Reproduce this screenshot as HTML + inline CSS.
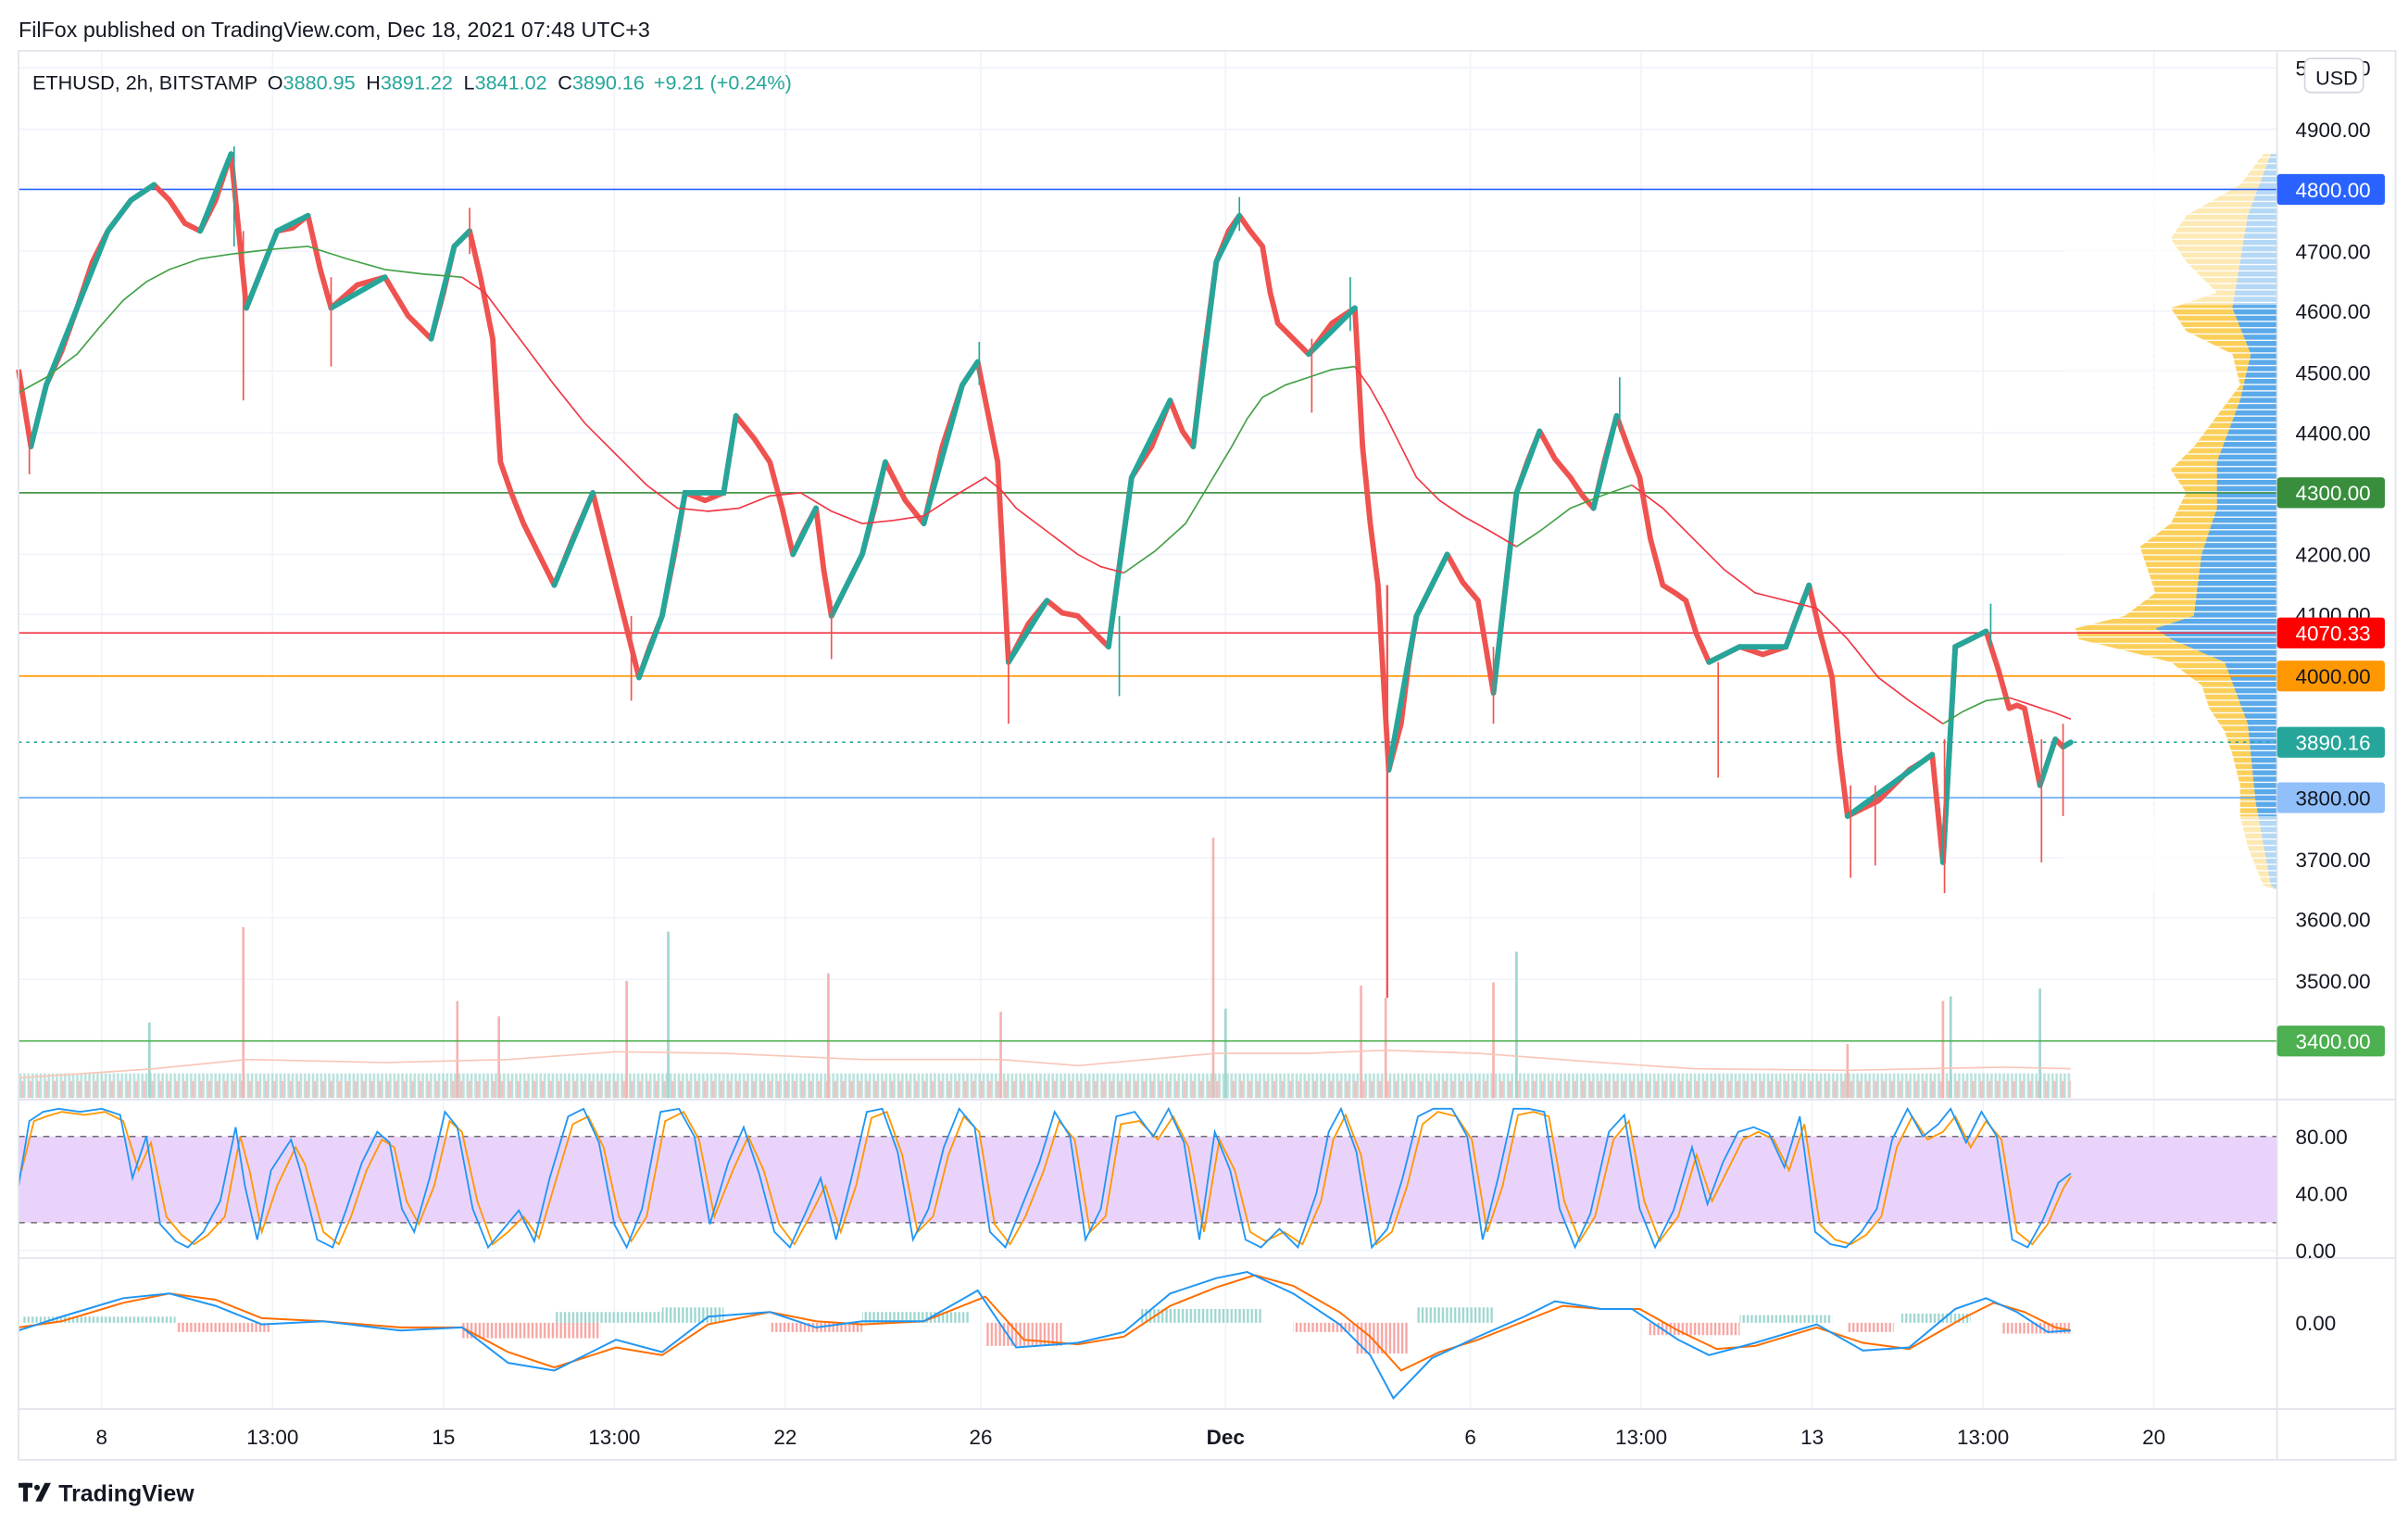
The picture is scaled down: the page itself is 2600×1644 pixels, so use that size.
<!DOCTYPE html>
<html><head><meta charset="utf-8"><style>
html,body{margin:0;padding:0;background:#fff;width:2600px;height:1644px;overflow:hidden}
svg{display:block}
text{font-family:"Liberation Sans",sans-serif}
</style></head><body>
<svg width="2600" height="1644" viewBox="0 0 1564 989" xmlns="http://www.w3.org/2000/svg">
<defs>
<pattern id="vb" x="12" y="0" width="2.64" height="30" patternUnits="userSpaceOnUse"><rect x="0.4" y="0" width="1.6" height="30" fill="#9fd6d0"/></pattern>
<pattern id="vr" x="13.3" y="0" width="5.28" height="30" patternUnits="userSpaceOnUse"><rect x="0.4" y="0" width="1.6" height="30" fill="#f6b3b1"/></pattern>
<pattern id="st" x="0" y="0" width="10" height="4.1" patternUnits="userSpaceOnUse"><rect x="0" y="3.3" width="10" height="0.8" fill="#fff"/></pattern>
<pattern id="hg" x="12" y="0" width="2.64" height="20" patternUnits="userSpaceOnUse"><rect x="0.5" y="0" width="1.4" height="20" fill="#9fd6d0"/></pattern>
<pattern id="hr" x="12" y="0" width="2.64" height="20" patternUnits="userSpaceOnUse"><rect x="0.5" y="0" width="1.4" height="20" fill="#f6a5a3"/></pattern>
</defs>
<rect width="1564" height="989" fill="#fff"/>
<g stroke="#f0f3fa" stroke-width="1">
<line x1="66" y1="33" x2="66" y2="915"/><line x1="177" y1="33" x2="177" y2="915"/><line x1="288" y1="33" x2="288" y2="915"/><line x1="399" y1="33" x2="399" y2="915"/><line x1="510" y1="33" x2="510" y2="915"/><line x1="637" y1="33" x2="637" y2="915"/><line x1="796" y1="33" x2="796" y2="915"/><line x1="955" y1="33" x2="955" y2="915"/><line x1="1066" y1="33" x2="1066" y2="915"/><line x1="1177" y1="33" x2="1177" y2="915"/><line x1="1288" y1="33" x2="1288" y2="915"/><line x1="1399" y1="33" x2="1399" y2="915"/>
<line x1="12" y1="44" x2="1479" y2="44"/><line x1="12" y1="84" x2="1479" y2="84"/><line x1="12" y1="163" x2="1479" y2="163"/><line x1="12" y1="202" x2="1479" y2="202"/><line x1="12" y1="241" x2="1479" y2="241"/><line x1="12" y1="281" x2="1479" y2="281"/><line x1="12" y1="360" x2="1479" y2="360"/><line x1="12" y1="399" x2="1479" y2="399"/><line x1="12" y1="557" x2="1479" y2="557"/><line x1="12" y1="596" x2="1479" y2="596"/><line x1="12" y1="636" x2="1479" y2="636"/>
<line x1="12" y1="775" x2="1479" y2="775"/><line x1="12" y1="812" x2="1479" y2="812"/>
</g>
<rect x="12" y="738" width="1467" height="56" fill="#ead3fb"/>
<line x1="12" y1="738" x2="1479" y2="738" stroke="#555" stroke-dasharray="4,4" stroke-width="0.8"/>
<line x1="12" y1="794" x2="1479" y2="794" stroke="#555" stroke-dasharray="4,4" stroke-width="0.8"/>

<!-- volume -->
<rect x="12" y="697" width="1333" height="16" fill="url(#vb)" opacity="0.7"/>
<rect x="12" y="702" width="1333" height="11" fill="url(#vr)" opacity="0.8"/>
<g stroke-width="1.6">
<line x1="158" y1="713" x2="158" y2="602" stroke="#f6b3b1"/><line x1="97" y1="713" x2="97" y2="664" stroke="#9fd6d0"/><line x1="297" y1="713" x2="297" y2="650" stroke="#f6b3b1"/><line x1="324" y1="713" x2="324" y2="660" stroke="#f6b3b1"/>
<line x1="407" y1="713" x2="407" y2="637" stroke="#f6b3b1"/><line x1="434" y1="713" x2="434" y2="605" stroke="#9fd6d0"/><line x1="538" y1="713" x2="538" y2="632" stroke="#f6b3b1"/><line x1="650" y1="713" x2="650" y2="657" stroke="#f6b3b1"/>
<line x1="788" y1="713" x2="788" y2="544" stroke="#f6b3b1"/><line x1="796" y1="713" x2="796" y2="655" stroke="#9fd6d0"/><line x1="884" y1="713" x2="884" y2="640" stroke="#f6b3b1"/><line x1="900" y1="713" x2="900" y2="648" stroke="#f6b3b1"/>
<line x1="970" y1="713" x2="970" y2="638" stroke="#f6b3b1"/><line x1="985" y1="713" x2="985" y2="618" stroke="#9fd6d0"/><line x1="1200" y1="713" x2="1200" y2="678" stroke="#f6b3b1"/><line x1="1262" y1="713" x2="1262" y2="650" stroke="#f6b3b1"/><line x1="1267" y1="713" x2="1267" y2="647" stroke="#9fd6d0"/><line x1="1325" y1="713" x2="1325" y2="642" stroke="#9fd6d0"/>
</g>
<polyline points="12,700 100,694 160,688 250,690 330,688 400,683 470,684 560,688 650,688 700,692 790,684 850,684 900,682 960,684 1040,690 1100,694 1200,695 1300,693 1345,694" fill="none" stroke="#f9c7b8" stroke-width="1"/>

<!-- volume profile -->
<polygon fill="#fbcf5a" points="1479,100 1470,100 1455,120 1420,140 1410,155 1420,170 1440,190 1410,200 1420,215 1450,230 1455,250 1440,270 1425,290 1410,305 1420,320 1410,340 1390,355 1395,370 1400,385 1380,400 1348,408 1350,415 1410,430 1430,445 1435,460 1445,475 1450,490 1455,510 1455,530 1460,550 1470,575 1479,578"/>
<polygon fill="#5aa9ea" points="1479,100 1475,100 1460,140 1450,200 1462,230 1455,260 1440,300 1440,330 1430,360 1425,400 1400,408 1410,415 1445,430 1460,470 1465,520 1475,575 1479,578"/>
<rect x="1340" y="98" width="140" height="100" fill="#fff" opacity="0.55"/>
<rect x="1340" y="530" width="140" height="50" fill="#fff" opacity="0.55"/>
<rect x="1340" y="98" width="139" height="482" fill="url(#st)"/>

<!-- horizontal lines -->
<g stroke-width="1">
<line x1="12" y1="123" x2="1479" y2="123" stroke="#2962ff"/>
<line x1="12" y1="320" x2="1479" y2="320" stroke="#388e3c"/>
<line x1="12" y1="411" x2="1479" y2="411" stroke="#f23645"/>
<line x1="12" y1="439" x2="1479" y2="439" stroke="#ff9800"/>
<line x1="12" y1="482" x2="1479" y2="482" stroke="#26a69a" stroke-dasharray="2,3"/>
<line x1="12" y1="518" x2="1479" y2="518" stroke="#64a8f5"/>
<line x1="12" y1="676" x2="1479" y2="676" stroke="#4caf50"/>
</g>

<!-- price -->
<polyline fill="none" stroke="#ef5350" stroke-width="3.5" stroke-linejoin="round" points="12,240 16,265 20,290 25,270 30,250 40,228 50,200 60,170 70,150 85,130 100,120 110,130 120,145 130,150 140,130 150,100 155,150 160,200 170,175 180,150 190,148 200,140 208,175 215,200 232,185 250,180 265,205 280,220 288,190 295,160 305,150 312,180 320,220 325,300 332,320 340,340 350,360 360,380 372,350 385,320 395,360 405,400 415,440 422,420 430,400 438,360 445,320 458,325 470,320 478,270 490,285 500,300 508,330 515,360 522,345 530,330 535,370 540,400 550,380 560,360 568,330 575,300 588,325 600,340 612,290 625,250 635,235 642,270 648,300 655,430 668,405 680,390 690,398 700,400 710,410 720,420 728,360 735,310 748,290 760,260 768,280 775,290 782,230 790,170 798,150 805,140 812,150 820,160 825,190 830,210 840,220 850,230 865,210 880,200 885,290 890,340 895,380 902,500 906,485 910,470 915,430 920,400 930,380 940,360 950,378 960,390 965,420 970,450 978,380 985,320 992,300 1000,280 1010,298 1020,310 1028,322 1035,330 1042,300 1050,270 1058,292 1065,310 1072,350 1080,380 1088,385 1095,390 1102,412 1110,430 1120,425 1130,420 1145,425 1160,420 1168,398 1175,380 1182,410 1190,440 1195,490 1200,530 1210,525 1220,520 1230,510 1240,500 1248,495 1255,490 1262,560 1266,490 1270,420 1280,415 1290,410 1298,435 1305,460 1310,458 1315,460 1320,485 1325,510 1330,495 1335,480 1340,485 1345,482"/>
<path fill="none" stroke="#26a69a" stroke-width="3.5" stroke-linecap="round" d="M20,290 L30,250 L50,200 L70,150 L85,130 L100,120 M130,150 L150,100 M160,200 L180,150 L200,140 M215,200 L250,180 M280,220 L295,160 L305,150 M360,380 L385,320 M415,440 L430,400 L445,320 L470,320 L478,270 M515,360 L530,330 M540,400 L560,360 L575,300 M600,340 L625,250 L635,235 M655,430 L680,390 M720,420 L735,310 L760,260 M775,290 L790,170 L805,140 M850,230 L880,200 M902,500 L920,400 L940,360 M970,450 L985,320 L1000,280 M1035,330 L1050,270 M1110,430 L1130,420 L1160,420 L1175,380 M1200,530 L1255,490 M1262,560 L1270,420 L1290,410 M1325,510 L1335,480 M1340,485 L1345,482"/>
<g stroke-width="1">
<line x1="19" y1="275" x2="19" y2="308" stroke="#ef5350"/><line x1="152" y1="95" x2="152" y2="160" stroke="#26a69a"/><line x1="158" y1="150" x2="158" y2="260" stroke="#ef5350"/><line x1="215" y1="180" x2="215" y2="238" stroke="#ef5350"/>
<line x1="305" y1="135" x2="305" y2="165" stroke="#ef5350"/><line x1="410" y1="400" x2="410" y2="455" stroke="#ef5350"/><line x1="540" y1="390" x2="540" y2="428" stroke="#ef5350"/><line x1="636" y1="222" x2="636" y2="250" stroke="#26a69a"/>
<line x1="655" y1="410" x2="655" y2="470" stroke="#ef5350"/><line x1="727" y1="400" x2="727" y2="452" stroke="#26a69a"/><line x1="805" y1="128" x2="805" y2="150" stroke="#26a69a"/><line x1="852" y1="220" x2="852" y2="268" stroke="#ef5350"/>
<line x1="877" y1="180" x2="877" y2="215" stroke="#26a69a"/><line x1="901" y1="380" x2="901" y2="648" stroke="#ef5350" stroke-width="1.4"/><line x1="970" y1="420" x2="970" y2="470" stroke="#ef5350"/><line x1="1052" y1="245" x2="1052" y2="280" stroke="#26a69a"/>
<line x1="1116" y1="430" x2="1116" y2="505" stroke="#ef5350"/><line x1="1202" y1="510" x2="1202" y2="570" stroke="#ef5350"/><line x1="1218" y1="510" x2="1218" y2="562" stroke="#ef5350"/><line x1="1263" y1="480" x2="1263" y2="580" stroke="#ef5350"/>
<line x1="1293" y1="392" x2="1293" y2="420" stroke="#26a69a"/><line x1="1326" y1="480" x2="1326" y2="560" stroke="#ef5350"/><line x1="1340" y1="470" x2="1340" y2="530" stroke="#ef5350"/>
</g>

<!-- MA -->
<polyline fill="none" stroke="#43a047" stroke-width="1" points="12,255 30,245 50,230 65,212 80,195 95,183 110,175 130,168 150,165 175,162 200,160 225,168 250,175 275,178 300,180"/>
<polyline fill="none" stroke="#f23645" stroke-width="1" points="300,180 315,190 330,210 345,230 360,250 380,275 400,295 420,315 440,330 460,332 480,330 500,322 520,320 540,332 560,340 580,338 600,335 620,322 640,310 650,318 660,330 680,345 700,360 715,368 730,372"/>
<polyline fill="none" stroke="#43a047" stroke-width="1" points="730,372 750,358 770,340 785,315 800,290 810,272 820,258 835,250 850,245 865,240 880,238"/>
<polyline fill="none" stroke="#f23645" stroke-width="1" points="880,238 890,252 900,270 910,290 920,310 935,325 950,335 968,345 985,355"/>
<polyline fill="none" stroke="#43a047" stroke-width="1" points="985,355 1000,345 1020,330 1040,322 1060,315"/>
<polyline fill="none" stroke="#f23645" stroke-width="1" points="1060,315 1080,330 1100,350 1120,370 1140,385 1160,390 1180,395 1200,415 1220,440 1240,455 1262,470"/>
<polyline fill="none" stroke="#43a047" stroke-width="1" points="1262,470 1275,462 1290,455 1305,453"/>
<polyline fill="none" stroke="#f23645" stroke-width="1" points="1305,453 1320,458 1335,463 1345,467"/>

<!-- stoch -->
<polyline fill="none" stroke="#ff9800" stroke-width="1.1" points="14,760 22,728 30,725 40,722 55,724 68,722 80,728 90,760 98,742 108,790 118,802 126,808 135,802 146,790 156,738 162,760 170,800 180,770 192,745 198,756 210,800 220,808 228,790 238,760 248,740 256,745 264,780 272,795 282,770 292,728 300,735 310,780 320,808 330,800 340,790 350,804 360,770 372,730 382,725 392,745 402,790 410,806 420,790 432,728 444,722 454,740 464,790 476,760 486,738 496,760 506,795 516,808 526,790 536,770 546,800 556,770 566,726 576,722 586,750 596,800 606,790 616,750 626,725 636,735 646,795 656,808 666,790 678,760 688,728 698,740 708,800 718,790 728,730 740,728 752,740 762,725 772,745 782,800 792,740 802,760 812,800 822,806 834,800 846,808 858,780 866,740 874,724 884,750 894,808 904,800 914,770 924,730 934,722 946,725 956,740 966,800 976,770 986,724 996,722 1006,725 1016,780 1026,806 1036,790 1048,740 1058,728 1068,780 1078,806 1090,790 1102,750 1112,780 1122,760 1132,740 1142,735 1152,740 1162,760 1172,730 1182,795 1192,805 1202,808 1212,802 1222,790 1232,745 1242,725 1252,740 1262,735 1270,725 1280,745 1290,728 1300,740 1310,800 1320,808 1330,795 1340,772 1345,764"/>
<polyline fill="none" stroke="#2196f3" stroke-width="1.1" points="12,770 19,728 28,722 38,720 52,722 66,720 78,724 86,765 95,738 104,795 114,806 122,810 132,800 143,780 153,732 159,770 167,805 176,760 189,740 195,760 206,805 216,810 225,785 235,755 245,735 253,742 261,785 269,800 279,765 289,722 297,732 307,785 317,810 327,798 337,786 347,806 357,765 369,725 379,720 389,742 399,795 407,810 417,785 429,722 441,720 451,738 461,795 473,755 483,732 493,762 503,800 513,810 523,788 533,765 543,805 553,765 563,722 573,720 583,748 593,805 603,785 613,745 623,720 633,732 643,800 653,810 663,785 675,755 685,722 695,738 705,805 715,785 725,725 737,722 749,738 759,720 769,742 779,805 789,735 799,760 809,805 819,810 831,798 843,810 855,775 863,735 871,720 881,748 891,810 901,798 911,765 921,725 931,720 943,720 953,738 963,805 973,765 983,720 993,720 1003,722 1013,785 1023,810 1033,788 1045,735 1055,724 1065,785 1075,810 1087,786 1099,745 1109,782 1119,755 1129,735 1139,732 1149,736 1159,758 1169,725 1179,800 1189,808 1199,810 1209,800 1219,785 1229,740 1239,720 1249,738 1259,730 1267,720 1277,742 1287,722 1297,738 1307,805 1317,810 1327,792 1337,768 1345,762"/>

<!-- macd histogram -->
<rect x="14" y="855" width="100" height="4" fill="url(#hg)"/>
<rect x="115" y="859" width="60" height="6" fill="url(#hr)"/>
<rect x="300" y="859" width="90" height="10" fill="url(#hr)"/>
<rect x="360" y="852" width="70" height="7" fill="url(#hg)"/>
<rect x="430" y="849" width="40" height="10" fill="url(#hg)"/>
<rect x="500" y="859" width="60" height="6" fill="url(#hr)"/>
<rect x="560" y="852" width="70" height="7" fill="url(#hg)"/>
<rect x="640" y="859" width="50" height="15" fill="url(#hr)"/>
<rect x="740" y="850" width="80" height="9" fill="url(#hg)"/>
<rect x="840" y="859" width="40" height="6" fill="url(#hr)"/>
<rect x="880" y="859" width="35" height="20" fill="url(#hr)"/>
<rect x="920" y="849" width="50" height="10" fill="url(#hg)"/>
<rect x="1070" y="859" width="60" height="8" fill="url(#hr)"/>
<rect x="1130" y="854" width="60" height="5" fill="url(#hg)"/>
<rect x="1200" y="859" width="30" height="6" fill="url(#hr)"/>
<rect x="1235" y="853" width="45" height="6" fill="url(#hg)"/>
<rect x="1300" y="859" width="45" height="7" fill="url(#hr)"/>
<polyline fill="none" stroke="#ff6d00" stroke-width="1.2" points="12,862 40,858 80,846 110,840 140,844 170,856 210,858 260,862 300,862 330,878 360,888 400,875 430,880 460,860 500,852 530,858 560,860 600,858 640,842 665,870 700,873 730,868 760,848 790,836 815,828 840,835 870,852 890,868 910,890 935,878 960,870 990,858 1015,848 1040,850 1065,850 1090,864 1115,876 1140,874 1180,862 1210,872 1240,876 1275,856 1295,846 1315,852 1335,862 1345,864"/>
<polyline fill="none" stroke="#2196f3" stroke-width="1.2" points="12,864 40,855 80,843 110,840 140,848 170,860 210,858 260,864 300,862 330,885 360,890 400,870 430,878 460,855 500,852 530,862 560,858 600,858 635,838 660,875 700,872 730,865 760,840 790,830 810,826 840,840 870,860 890,880 905,908 930,882 960,868 990,855 1010,845 1040,850 1060,850 1090,870 1110,880 1140,872 1180,860 1210,877 1240,875 1270,850 1290,843 1310,852 1330,865 1345,864"/>

<!-- frame -->
<g stroke="#e0e3eb" stroke-width="1" fill="none">
<rect x="12" y="33" width="1544" height="915"/>
<line x1="1479" y1="33" x2="1479" y2="948"/>
<line x1="12" y1="714" x2="1556" y2="714"/>
<line x1="12" y1="817" x2="1556" y2="817"/>
<line x1="12" y1="915" x2="1556" y2="915"/>
</g>
<text x="12" y="24" font-size="14" fill="#131722">FilFox published on TradingView.com, Dec 18, 2021 07:48 UTC+3</text>
<text x="21" y="58" font-size="13" fill="#131722">ETHUSD, 2h, BITSTAMP <tspan dx="3">O</tspan><tspan fill="#26a69a">3880.95</tspan><tspan dx="7">H</tspan><tspan fill="#26a69a">3891.22</tspan><tspan dx="7">L</tspan><tspan fill="#26a69a">3841.02</tspan><tspan dx="7">C</tspan><tspan fill="#26a69a">3890.16</tspan><tspan dx="6" fill="#26a69a">+9.21 (+0.24%)</tspan></text>
<g font-size="13.5" fill="#131722">
<text x="1491" y="49">5000.00</text>
<text x="1491" y="89">4900.00</text>
<text x="1491" y="168">4700.00</text>
<text x="1491" y="207">4600.00</text>
<text x="1491" y="247">4500.00</text>
<text x="1491" y="286">4400.00</text>
<text x="1491" y="365">4200.00</text>
<text x="1491" y="404">4100.00</text>
<text x="1491" y="563">3700.00</text>
<text x="1491" y="602">3600.00</text>
<text x="1491" y="642">3500.00</text>
<text x="1491" y="743">80.00</text>
<text x="1491" y="780">40.00</text>
<text x="1491" y="817">0.00</text>
<text x="1491" y="864">0.00</text>
</g>
<rect x="1497" y="38" width="38" height="22" rx="4" fill="#fff" stroke="#d1d4dc"/>
<text x="1504" y="55" font-size="13" fill="#131722">USD</text>
<g font-size="13.5">
<rect x="1479" y="113" width="70" height="20" rx="2" fill="#2962ff"/><text x="1491" y="128" fill="#fff">4800.00</text>
<rect x="1479" y="310" width="70" height="20" rx="2" fill="#388e3c"/><text x="1491" y="325" fill="#fff">4300.00</text>
<rect x="1479" y="401" width="70" height="20" rx="2" fill="#ff0000"/><text x="1491" y="416" fill="#fff">4070.33</text>
<rect x="1479" y="429" width="70" height="20" rx="2" fill="#ff9800"/><text x="1491" y="444" fill="#131722">4000.00</text>
<rect x="1479" y="472" width="70" height="20" rx="2" fill="#26a69a"/><text x="1491" y="487" fill="#fff">3890.16</text>
<rect x="1479" y="508" width="70" height="20" rx="2" fill="#90bff9"/><text x="1491" y="523" fill="#131722">3800.00</text>
<rect x="1479" y="666" width="70" height="20" rx="2" fill="#4caf50"/><text x="1491" y="681" fill="#fff">3400.00</text>
</g>
<g font-size="13.5" fill="#131722" text-anchor="middle">
<text x="66" y="938">8</text><text x="177" y="938">13:00</text><text x="288" y="938">15</text>
<text x="399" y="938">13:00</text><text x="510" y="938">22</text><text x="637" y="938">26</text>
<text x="796" y="938" font-weight="bold">Dec</text><text x="955" y="938">6</text>
<text x="1066" y="938">13:00</text><text x="1177" y="938">13</text><text x="1288" y="938">13:00</text>
<text x="1399" y="938">20</text>
</g>
<g fill="#131722"><rect x="12" y="963" width="9" height="3"/><rect x="15" y="963" width="3" height="12"/><path d="M23 975 L29 963 L33 963 L27 975Z"/><circle cx="24" cy="966" r="1.8"/></g>
<text x="38" y="975" font-size="15" fill="#131722" font-weight="bold">TradingView</text>
</svg>
</body></html>
